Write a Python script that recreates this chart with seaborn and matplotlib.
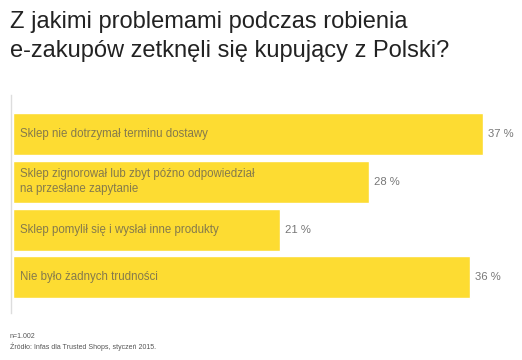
import matplotlib
matplotlib.use("Agg")
import matplotlib.pyplot as plt
import seaborn as sns

# data
problems = [
    "Sklep nie dotrzymał terminu dostawy",
    "Sklep zignorował lub zbyt późno odpowiedział\nna przesłane zapytanie",
    "Sklep pomylił się i wysłał inne produkty",
    "Nie było żadnych trudności",
]
shares = [37, 28, 21, 36]

title = "Z jakimi problemami podczas robienia\ne-zakupów zetknęli się kupujący z Polski?"
note_n = "n=1.002"
note_src = "Źródło: Infas dla Trusted Shops, styczeń 2015."

sns.set_theme(style="white")
plt.rcParams["font.family"] = ["Liberation Sans", "DejaVu Sans"]

W, H = 522, 360
fig = plt.figure(figsize=(W / 100, H / 100), dpi=100)
fig.patch.set_facecolor("white")

# axes placed in pixel coords: left 11, top 95, bottom 313
ax = fig.add_axes([11 / W, 1 - 313 / H, (W - 11) / W, (313 - 95) / H])
sns.barplot(x=shares, y=problems, orient="h", color="#FDDC32",
            saturation=1, width=0.88, ax=ax)

ax.set_xlim(-0.16, (W - 13) / 12.7)
ax.set_ylim(3.75, -0.82)
ax.set_xticks([])
ax.set_yticks([])
ax.set_xlabel("")
ax.set_ylabel("")
for side in ["top", "right", "bottom"]:
    ax.spines[side].set_visible(False)
ax.spines["left"].set_color("#dddddd")
ax.spines["left"].set_linewidth(1)

for i, (lab, v) in enumerate(zip(problems, shares)):
    ax.text(0.55, i, lab, va="center", ha="left", fontsize=8.3,
            color="#857a4c", linespacing=1.3)
    ax.text(v + 0.4, i, f"{v} %", va="center", ha="left", fontsize=8.1,
            color="#777777")

fig.text(10 / W, 1 - 11 / H, title, ha="left", va="top", fontsize=17,
         color="#222222", linespacing=1.4)
fig.text(10 / W, 1 - 337 / H, note_n, ha="left", va="center", fontsize=5,
         color="#555555")
fig.text(10 / W, 1 - 347 / H, note_src, ha="left", va="center", fontsize=5,
         color="#555555")

fig.savefig("out.png", dpi=100)
